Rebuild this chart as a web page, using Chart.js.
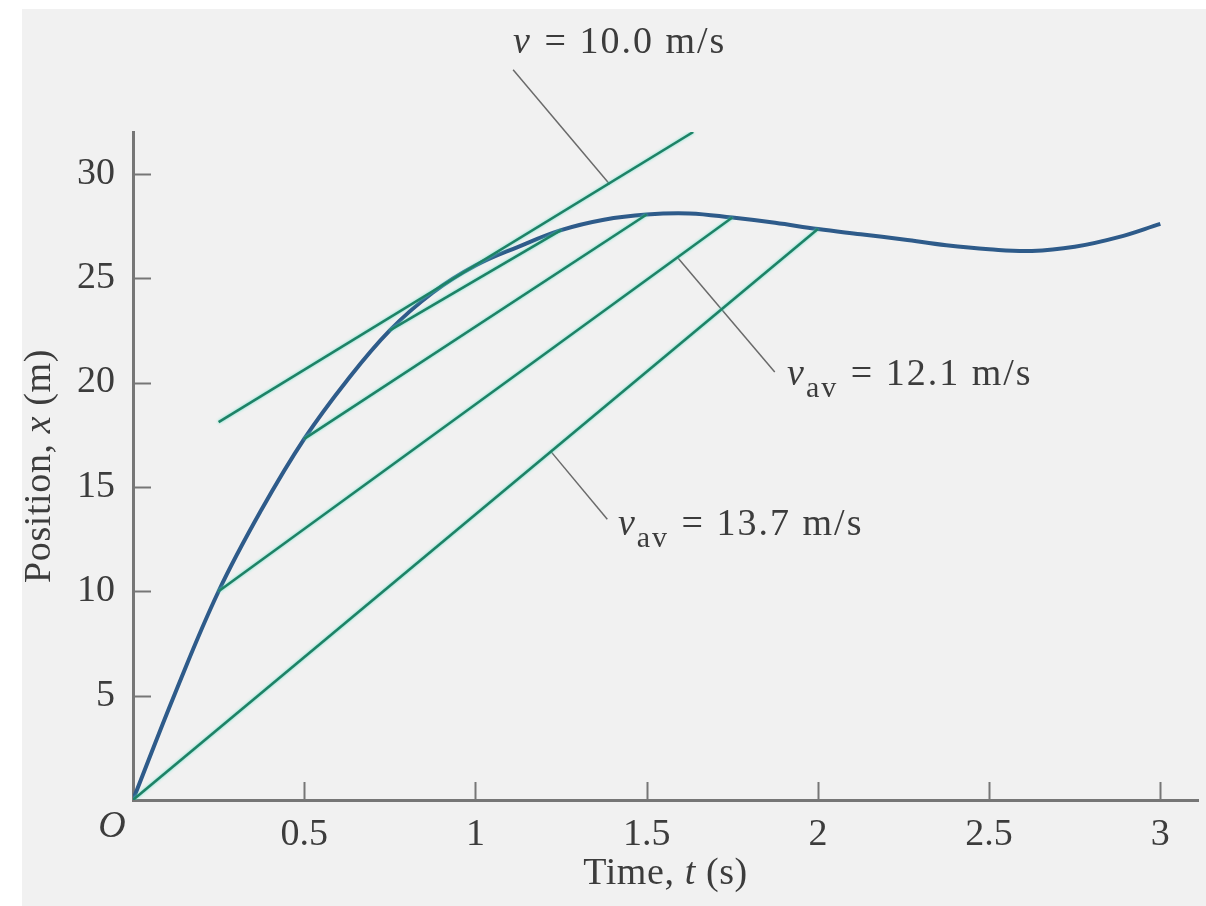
<!DOCTYPE html>
<html>
<head>
<meta charset="utf-8">
<script src="https://cdn.jsdelivr.net/npm/chart.js@4.4.0/dist/chart.umd.min.js"></script>
<style>
  html, body { margin: 0; padding: 0; background: #fff; }
  #wrap { position: absolute; left: 22px; top: 9px; width: 1184px; height: 897px; background: #f1f1f1; }
</style>
</head>
<body>
<div id="wrap"><canvas id="positionChart" width="1184" height="897"></canvas></div>
<script>
// position curve x(t)
const times     = [0, 0.125, 0.25, 0.375, 0.5, 0.625, 0.75, 0.875, 1.0, 1.125, 1.25, 1.375, 1.5,
                   1.625, 1.75, 1.875, 2.0, 2.125, 2.25, 2.375, 2.5, 2.625, 2.75, 2.875, 3.0];
const positions = [0, 5.2, 10.0, 13.9, 17.3, 20.1, 22.5, 24.3, 25.6, 26.5, 27.3, 27.8, 28.05,
                   28.1, 27.9, 27.65, 27.35, 27.1, 26.85, 26.57, 26.38, 26.3, 26.5, 26.95, 27.6];

const xTicks = [0.5, 1, 1.5, 2, 2.5, 3];
const yTicks = [5, 10, 15, 20, 25, 30];

// straight lines: tangent (v = 10.0) and the secants, as [t, x] end points
const tangent10 = [[0.25, 18.1], [1.636, 32.0]];
const secantA   = [[0.75, 22.5], [1.25, 27.3]];
const secantB   = [[0.5, 17.3], [1.5, 28.05]];
const secantC   = [[0.25, 10.0], [1.75, 27.9]];   // v_av = 12.1
const secantD   = [[0, 0], [2.0, 27.35]];         // v_av = 13.7

// leader lines to the labels
const leader10  = [[1.11, 34.98], [1.392, 29.5]];
const leader121 = [[1.874, 20.5], [1.592, 25.95]];
const leader137 = [[1.385, 13.45], [1.22, 16.7]];

const labelTexts = [
    { at: [1.11, 35.78], sub: '',   rest: ' = 10.0 m/s' },
    { at: [1.91, 19.88], sub: 'av', rest: ' = 12.1 m/s' },
    { at: [1.416, 12.69], sub: 'av', rest: ' = 13.7 m/s' }
];

const GREEN = '#1e8266';
const CURVE = '#2e5b8a';
const AXIS = '#767676';
const TEXT = '#3c3c3c';
const SERIF = '"Liberation Serif", "Times New Roman", serif';

const toPts = arr => arr.map(p => ({ x: p[0], y: p[1] }));

function fontFor(p) {
    return (p.i ? 'italic ' : '') + (p.sub ? 30 : 38) + 'px ' + SERIF;
}

function drawRuns(ctx, parts, x, y, align) {
    let total = 0;
    parts.forEach(p => { ctx.font = fontFor(p); p.w = ctx.measureText(p.t).width; total += p.w; });
    let cx = align === 'center' ? x - total / 2 : x;
    parts.forEach(p => {
        ctx.font = fontFor(p);
        ctx.fillText(p.t, cx, y + (p.sub ? 12 : 0));
        cx += p.w + (p.sub ? 1 : 0);
    });
}

const greenLine = pts => ({
    data: toPts(pts), borderColor: GREEN, borderWidth: 2.5, showLine: true, pointRadius: 0, glow: true
});
const leader = pts => ({
    data: toPts(pts), borderColor: '#6a6a6a', borderWidth: 1.5, showLine: true, pointRadius: 0, clip: false
});

const figureExtras = {
    id: 'figureExtras',
    beforeDatasetDraw(chart, args) {
        if (args.meta._dataset.glow) {
            chart.ctx.save();
            chart.ctx.shadowColor = 'rgba(90, 225, 200, 0.9)';
            chart.ctx.shadowBlur = 3;
        }
    },
    afterDatasetDraw(chart, args) {
        if (args.meta._dataset.glow) chart.ctx.restore();
    },
    afterDraw(chart) {
        const { ctx, scales: { x, y }, chartArea } = chart;
        ctx.save();
        // inward tick marks
        ctx.strokeStyle = AXIS;
        ctx.lineWidth = 2;
        x.ticks.forEach(t => {
            const px = Math.round(x.getPixelForValue(t.value)) + 0.5;
            ctx.beginPath(); ctx.moveTo(px, chartArea.bottom); ctx.lineTo(px, chartArea.bottom - 18); ctx.stroke();
        });
        y.ticks.forEach(t => {
            const py = Math.round(y.getPixelForValue(t.value)) + 0.5;
            ctx.beginPath(); ctx.moveTo(chartArea.left, py); ctx.lineTo(chartArea.left + 18, py); ctx.stroke();
        });

        ctx.fillStyle = TEXT;
        ctx.textBaseline = 'alphabetic';
        ctx.textAlign = 'left';
        ctx.letterSpacing = '2px';
        labelTexts.forEach(l => {
            drawRuns(ctx, [{ t: 'v', i: true }, { t: l.sub, sub: true }, { t: l.rest }],
                x.getPixelForValue(l.at[0]), y.getPixelForValue(l.at[1]), 'left');
        });

        // origin label
        ctx.letterSpacing = '0px';
        ctx.textBaseline = 'middle';
        ctx.textAlign = 'center';
        ctx.font = 'italic 38px ' + SERIF;
        ctx.fillText('O', chartArea.left - 21, chartArea.bottom + 27);

        // axis titles
        ctx.textAlign = 'left';
        ctx.letterSpacing = '0.6px';
        drawRuns(ctx, [{ t: 'Time, ' }, { t: 't', i: true }, { t: ' (s)' }],
            (chartArea.left + chartArea.right) / 2, chartArea.bottom + 74, 'center');
        ctx.translate(18, (chartArea.top + chartArea.bottom) / 2);
        ctx.rotate(-Math.PI / 2);
        drawRuns(ctx, [{ t: 'Position, ' }, { t: 'x', i: true }, { t: ' (m)' }], 0, 0, 'center');
        ctx.restore();
    }
};

const ctx = document.getElementById('positionChart').getContext('2d');
new Chart(ctx, {
    type: 'scatter',
    data: {
        datasets: [
            greenLine(tangent10),
            greenLine(secantA),
            greenLine(secantB),
            greenLine(secantC),
            greenLine(secantD),
            leader(leader10),
            leader(leader121),
            leader(leader137),
            {
                label: 'Position',
                data: times.map((t, i) => ({ x: t, y: positions[i] })),
                borderColor: CURVE,
                borderWidth: 4,
                showLine: true,
                pointRadius: 0,
                tension: 0.4
            }
        ]
    },
    options: {
        responsive: false,
        animation: false,
        layout: { padding: { top: 123, right: 8, left: 0, bottom: 0 }, autoPadding: false },
        plugins: { legend: { display: false }, tooltip: { enabled: false } },
        scales: {
            x: {
                type: 'linear',
                min: 0,
                max: 3.11,
                grid: { display: false },
                border: { display: true, color: AXIS, width: 3 },
                afterBuildTicks: scale => { scale.ticks = xTicks.map(v => ({ value: v })); },
                afterFit: scale => { scale.height = 106; },
                ticks: {
                    padding: 4,
                    color: TEXT,
                    font: { family: SERIF, size: 38 },
                    callback: v => String(v),
                    maxRotation: 0
                }
            },
            y: {
                min: 0,
                max: 32,
                grid: { display: false },
                border: { display: true, color: AXIS, width: 3 },
                afterBuildTicks: scale => { scale.ticks = yTicks.map(v => ({ value: v })); },
                afterFit: scale => { scale.width = 111; },
                ticks: {
                    padding: 10,
                    color: TEXT,
                    font: { family: SERIF, size: 38 },
                    callback: v => String(v)
                }
            }
        }
    },
    plugins: [figureExtras]
});
</script>
</body>
</html>
